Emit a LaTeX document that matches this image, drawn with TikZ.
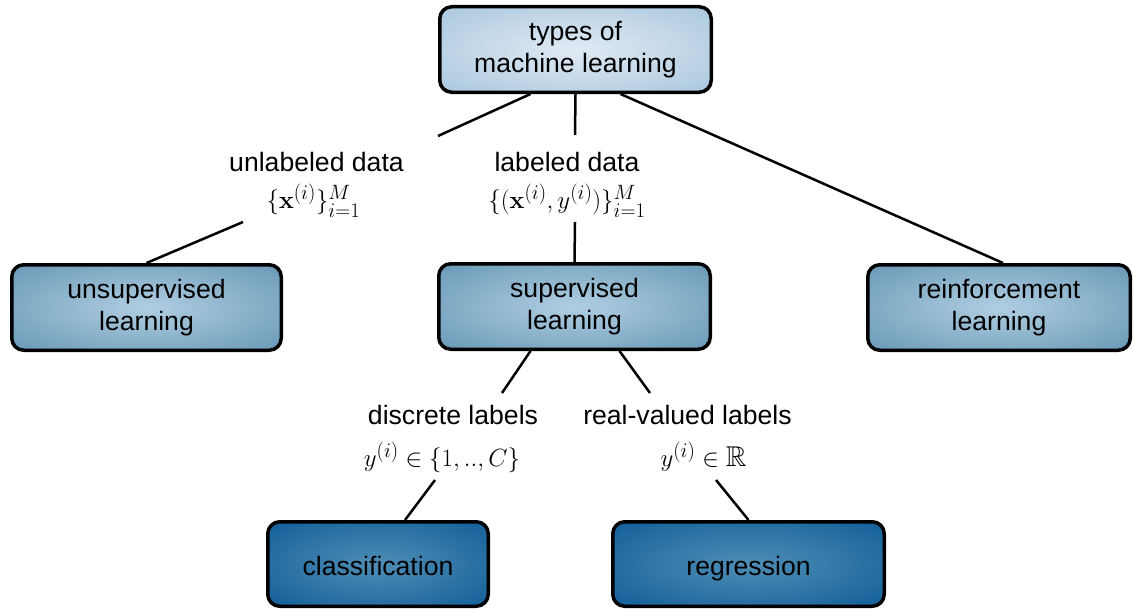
\documentclass[tikz,border=0pt]{standalone}
\usepackage{amsmath,amssymb}
\usepackage[no-math]{fontspec}
\setmainfont{Liberation Sans}
\definecolor{topin}{RGB}{224,234,244}
\definecolor{topout}{RGB}{160,193,218}
\definecolor{midin}{RGB}{176,206,226}
\definecolor{midout}{RGB}{92,143,174}
\definecolor{botin}{RGB}{78,142,182}
\definecolor{botout}{RGB}{8,86,148}
\pgfdeclareradialshading{shtop}{\pgfpoint{0bp}{0bp}}{color(0bp)=(topin); color(42bp)=(topout); color(50bp)=(topout)}
\pgfdeclareradialshading{shmid}{\pgfpoint{0bp}{0bp}}{color(0bp)=(midin); color(42bp)=(midout); color(50bp)=(midout)}
\pgfdeclareradialshading{shbot}{\pgfpoint{0bp}{0bp}}{color(0bp)=(botin); color(42bp)=(botout); color(50bp)=(botout)}
\tikzset{
  box/.style={draw=black, line width=3.5pt, rounded corners=12pt, align=center,
    inner sep=0pt, font=\fontsize{26.6}{32}\selectfont},
  topbox/.style={box, shading=shtop, minimum width=271.5pt, minimum height=85.5pt},
  midbox/.style={box, shading=shmid, minimum height=85.5pt},
  botbox/.style={box, shading=shbot, minimum height=84.5pt, text height=26pt, text depth=2.6pt},
  lbl/.style={inner sep=0pt, font=\fontsize{26.6}{32}\selectfont},
  mth/.style={inner sep=0pt, font=\fontsize{28.6}{34}\selectfont},
  conn/.style={line width=2.5pt}
}
\begin{document}
\begin{tikzpicture}[x=1pt,y=-1pt]
\useasboundingbox (0,0) rectangle (1134,610);
\node[topbox] (top) at (575.5,49.5) {types of\\machine learning};
\node[midbox, minimum width=269.5pt] (unsup) at (146.5,307.5) {unsupervised\\learning};
\node[midbox, minimum width=271.5pt] (sup) at (574.5,306.5) {supervised\\learning};
\node[midbox, minimum width=262.5pt] (reinf) at (999,307.5) {reinforcement\\learning};
\node[botbox, minimum width=220.5pt] (class) at (378,564) {classification};
\node[botbox, minimum width=271.5pt] (regr) at (748.5,564) {regression};

\node[lbl] (unl) at (316.5,162) {unlabeled data};
\node[mth] (unlm) at (313.5,201) {$\{\mathbf{x}^{(i)}\}_{i=1}^{M}$};
\node[lbl] (lab) at (567,162) {labeled data};
\node[mth] (labm) at (567,201) {$\{(\mathbf{x}^{(i)},y^{(i)})\}_{i=1}^{M}$};
\node[lbl] (dis) at (453,415) {discrete labels};
\node[mth] (dism) at (442,457) {$y^{(i)}\in\{1,..,C\}$};
\node[lbl] (real) at (687.5,415) {real-valued labels};
\node[mth] (realm) at (703.5,457) {$y^{(i)}\in\mathbb{R}$};

\coordinate (c1) at (438,136);
\coordinate (c2) at (243,222);
\coordinate (c3) at (575,135);
\coordinate (c4) at (575,222);
\coordinate (c5) at (502,393);
\coordinate (c6) at (650,393);
\coordinate (c7) at (435,480);
\coordinate (c8) at (716,480);

\draw[conn] ([xshift=-45pt]top.south) -- (c1);
\draw[conn] (c2) -- (unsup.north);
\draw[conn] (top.south) -- (c3);
\draw[conn] (c4) -- (sup.north);
\draw[conn] ([xshift=45pt]top.south) -- ([xshift=4pt]reinf.north);
\draw[conn] ([xshift=-44pt]sup.south) -- (c5);
\draw[conn] ([xshift=45pt]sup.south) -- (c6);
\draw[conn] (c7) -- ([xshift=27pt]class.north);
\draw[conn] (c8) -- (regr.north);
\end{tikzpicture}
\end{document}
